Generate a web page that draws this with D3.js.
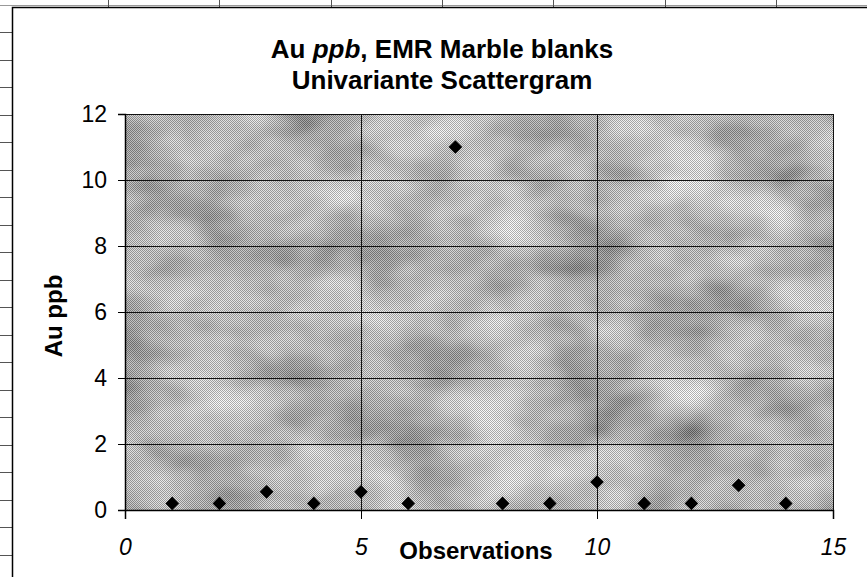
<!DOCTYPE html>
<html>
<head>
<meta charset="utf-8">
<script src="https://cdn.jsdelivr.net/npm/d3@7/dist/d3.min.js"></script>
<style>
  html, body { margin: 0; padding: 0; background: #fff; }
  svg { display: block; font-family: "Liberation Sans", Arial, sans-serif; }
</style>
</head>
<body>
<svg id="chart" width="867" height="577"></svg>
<script>
// Au ppb readings for the EMR marble blanks, one per observation
const observations = [1, 2, 3, 4, 5, 6, 7, 8, 9, 10, 11, 12, 13, 14];
const auPpb = [0.2, 0.2, 0.55, 0.2, 0.55, 0.2, 11, 0.2, 0.2, 0.85, 0.2, 0.2, 0.75, 0.2];

const xTicks = [0, 5, 10, 15];
const yTicks = [0, 2, 4, 6, 8, 10, 12];
const titleLines = [
  [{ t: "Au ", i: false }, { t: "ppb", i: true }, { t: ", EMR Marble blanks", i: false }],
  [{ t: "Univariante Scattergram", i: false }]
];
const xTitle = "Observations";
const yTitle = "Au ppb";

const W = 867, H = 577;
const plot = { left: 125, right: 833, top: 114, bottom: 510 };

const svg = d3.select("#chart");
const defs = svg.append("defs");

// mottled grey texture of the plot area
const mottle = defs.append("filter").attr("id", "mottle")
  .attr("x", 0).attr("y", 0).attr("width", 1).attr("height", 1);
mottle.append("feTurbulence")
  .attr("type", "fractalNoise").attr("baseFrequency", "0.011 0.018")
  .attr("numOctaves", 3).attr("seed", 7).attr("result", "noise");
mottle.append("feColorMatrix")
  .attr("in", "noise").attr("type", "matrix")
  .attr("values", "1.15 0 0 0 0.04  1.15 0 0 0 0.04  1.15 0 0 0 0.04  0 0 0 0 1");

// fine checker dither laid over the grey
const dither = defs.append("pattern")
  .attr("id", "dither").attr("width", 2).attr("height", 2)
  .attr("patternUnits", "userSpaceOnUse");
dither.append("rect").attr("width", 1).attr("height", 1).attr("fill", "#000").attr("fill-opacity", 0.3);
dither.append("rect").attr("x", 1).attr("y", 1).attr("width", 1).attr("height", 1).attr("fill", "#000").attr("fill-opacity", 0.3);
dither.append("rect").attr("x", 1).attr("y", 0).attr("width", 1).attr("height", 1).attr("fill", "#fff").attr("fill-opacity", 0.2);
dither.append("rect").attr("x", 0).attr("y", 1).attr("width", 1).attr("height", 1).attr("fill", "#fff").attr("fill-opacity", 0.2);

// spreadsheet cells showing around the chart object
const sheet = svg.append("g").attr("stroke", "#555").attr("stroke-width", 1);
sheet.append("line").attr("x1", 0).attr("x2", W).attr("y1", 5.5).attr("y2", 5.5).attr("stroke", "#999");
d3.range(108, W, 111.3).forEach(x => {
  sheet.append("line").attr("x1", Math.round(x) + 0.5).attr("x2", Math.round(x) + 0.5)
    .attr("y1", 0).attr("y2", 7);
});
d3.range(32, H, 27.5).forEach(y => {
  sheet.append("line").attr("x1", 0).attr("x2", 12).attr("y1", Math.round(y) + 0.5).attr("y2", Math.round(y) + 0.5);
});

// chart object border
svg.append("path")
  .attr("d", `M12.5,${H} V7.5 H${W}`)
  .attr("fill", "none").attr("stroke", "#000").attr("stroke-width", 1.5);

const x = d3.scaleLinear().domain([0, 15]).range([plot.left, plot.right]);
const y = d3.scaleLinear().domain([0, 12]).range([plot.bottom, plot.top]);

// plot area
svg.append("rect")
  .attr("x", plot.left).attr("y", plot.top)
  .attr("width", plot.right - plot.left).attr("height", plot.bottom - plot.top)
  .attr("fill", "#9c9c9c").attr("filter", "url(#mottle)");
svg.append("rect")
  .attr("x", plot.left).attr("y", plot.top)
  .attr("width", plot.right - plot.left).attr("height", plot.bottom - plot.top)
  .attr("fill", "url(#dither)");

// gridlines
const grid = svg.append("g").attr("stroke", "#111").attr("stroke-width", 1);
yTicks.filter(v => v > 0).forEach(v => {
  grid.append("line").attr("x1", plot.left).attr("x2", plot.right)
    .attr("y1", Math.round(y(v)) + 0.5).attr("y2", Math.round(y(v)) + 0.5);
});
xTicks.filter(v => v > 0).forEach(v => {
  grid.append("line").attr("y1", plot.top).attr("y2", plot.bottom)
    .attr("x1", Math.round(x(v)) + 0.5).attr("x2", Math.round(x(v)) + 0.5);
});

// axes
const yAxis = svg.append("g")
  .attr("transform", `translate(${plot.left},0)`)
  .call(d3.axisLeft(y).tickValues(yTicks).tickSize(7).tickPadding(11).tickFormat(d3.format("d")));
const xAxis = svg.append("g")
  .attr("transform", `translate(0,${plot.bottom})`)
  .call(d3.axisBottom(x).tickValues(xTicks).tickSize(9).tickPadding(20).tickFormat(d3.format("d")));
[yAxis, xAxis].forEach(a => {
  a.select(".domain").attr("stroke", "#000").attr("stroke-width", 1.5);
  a.selectAll(".tick line").attr("stroke", "#000").attr("stroke-width", 1);
  a.selectAll(".tick text").attr("fill", "#000").attr("font-size", 23)
    .attr("font-family", "'Liberation Sans', Arial, sans-serif");
});
xAxis.selectAll(".tick text").attr("font-style", "italic");

// points as black diamonds
svg.append("g").selectAll("path")
  .data(observations.map((o, i) => ({ o, v: auPpb[i] })))
  .join("path")
  .attr("d", d3.symbol(d3.symbolSquare, 92))
  .attr("transform", d => `translate(${x(d.o)},${y(d.v)}) rotate(45)`)
  .attr("fill", "#000");

// titles
const title = svg.append("text")
  .attr("text-anchor", "middle").attr("font-weight", "bold").attr("font-size", 26).attr("fill", "#000");
titleLines.forEach((line, li) => {
  const row = title.append("tspan").attr("x", 442).attr("y", 58 + li * 31);
  line.forEach(part => {
    row.append("tspan").text(part.t).attr("font-style", part.i ? "italic" : null);
  });
});
svg.append("text")
  .attr("x", 476).attr("y", 559)
  .attr("text-anchor", "middle").attr("font-weight", "bold").attr("font-size", 24)
  .text(xTitle);
svg.append("text")
  .attr("transform", "translate(62,316) rotate(-90)")
  .attr("text-anchor", "middle").attr("font-weight", "bold").attr("font-size", 24)
  .text(yTitle);
</script>
</body>
</html>
